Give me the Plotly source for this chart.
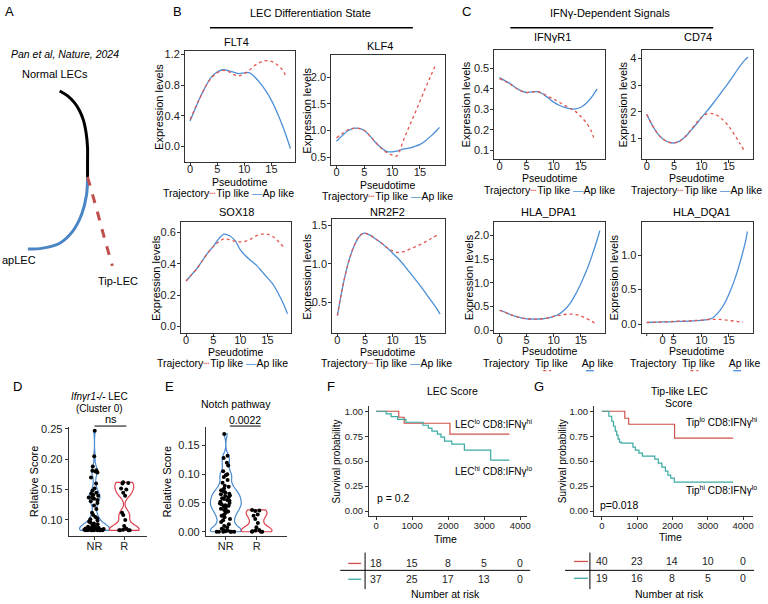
import plotly.graph_objects as go

W, H = 768, 604
FONT = "Liberation Sans, Arial, sans-serif"
RED = "#E3574E"
BLUE = "#4C8FD6"
KM_RED = "#D0504A"
KM_TEAL = "#3AAAA2"

# ---------------- Panel A: schematic trajectory paths ----------------
a_normal_x = [60, 68, 75, 80, 84, 86.5, 88, 88, 88]
a_normal_y = [88, 93, 100, 108, 118, 130, 145, 160, 175]
a_ap_x = [88, 87, 82, 73, 60, 43, 28]
a_ap_y = [175, 193, 213, 230, 242, 247, 248]
a_tip_x = [88, 97, 105, 113]
a_tip_y = [175, 207, 237, 265]

# ---------------- Panels B/C: pseudotime expression curves ----------------
genes = [
    dict(name="FLT4",
         tb=[0, 1, 2, 3, 4, 5, 6, 7, 8, 9, 10, 11, 12, 13, 14, 15, 16, 17, 18, 18.5],
         vb=[0.33, 0.50, 0.66, 0.80, 0.91, 0.97, 1.00, 0.99, 0.97, 0.95, 0.96, 0.96, 0.90, 0.82, 0.72, 0.60, 0.45, 0.28, 0.08, -0.03],
         tr=[0, 1, 2, 3, 4, 5, 6, 7, 8, 9, 10, 11, 12, 13, 14, 15, 16, 17, 17.8],
         vr=[0.35, 0.51, 0.66, 0.80, 0.90, 0.96, 0.99, 0.98, 0.94, 0.92, 0.95, 1.00, 1.06, 1.10, 1.12, 1.11, 1.07, 1.00, 0.90],
         yticks=[0.0, 0.4, 0.8, 1.2], ytext=["0.0", "0.4", "0.8", "1.2"]),
    dict(name="KLF4",
         tb=[0, 1, 2, 3, 4, 5, 6, 7, 8, 9, 10, 11, 12, 13, 14, 15, 16, 17, 18, 18.5],
         vb=[0.80, 0.90, 0.99, 1.04, 1.04, 1.00, 0.90, 0.78, 0.68, 0.61, 0.60, 0.62, 0.65, 0.67, 0.70, 0.74, 0.81, 0.90, 1.00, 1.06],
         tr=[0, 1, 2, 3, 4, 5, 6, 7, 8, 9, 10, 10.8, 12, 13, 14, 15, 16, 17, 17.8],
         vr=[0.86, 0.94, 1.01, 1.04, 1.04, 1.00, 0.90, 0.78, 0.67, 0.59, 0.54, 0.52, 0.81, 1.06, 1.30, 1.55, 1.80, 2.04, 2.23],
         yticks=[0.5, 1.0, 1.5, 2.0], ytext=["0.5", "1.0", "1.5", "2.0"]),
    dict(name="SOX18",
         tb=[0, 1, 2, 3, 4, 5, 6, 7, 8, 9, 10, 11, 12, 13, 14, 15, 16, 17, 18, 18.7],
         vb=[0.29, 0.33, 0.37, 0.42, 0.47, 0.51, 0.56, 0.59, 0.58, 0.55, 0.49, 0.45, 0.42, 0.39, 0.35, 0.31, 0.27, 0.21, 0.14, 0.08],
         tr=[0, 1, 2, 3, 4, 5, 6, 7, 8, 9, 10, 11, 12, 13, 14, 15, 16, 17, 18],
         vr=[0.29, 0.33, 0.37, 0.42, 0.47, 0.51, 0.54, 0.56, 0.555, 0.545, 0.54, 0.545, 0.56, 0.58, 0.59, 0.59, 0.575, 0.545, 0.505],
         yticks=[0.0, 0.2, 0.4, 0.6], ytext=["0.0", "0.2", "0.4", "0.6"]),
    dict(name="NR2F2",
         tb=[0, 1, 2, 3, 4, 4.8, 6, 7, 8, 9, 10, 11, 12, 13, 14, 15, 16, 17, 18, 18.6],
         vb=[0.33, 0.72, 1.02, 1.23, 1.36, 1.40, 1.37, 1.32, 1.27, 1.21, 1.14, 1.07, 0.99, 0.90, 0.81, 0.72, 0.62, 0.52, 0.42, 0.35],
         tr=[0, 1, 2, 3, 4, 4.8, 6, 7, 8, 9, 10, 11, 12, 13, 14, 15, 16, 17, 18],
         vr=[0.33, 0.72, 1.02, 1.23, 1.36, 1.40, 1.37, 1.32, 1.27, 1.21, 1.17, 1.15, 1.16, 1.19, 1.22, 1.25, 1.29, 1.33, 1.37],
         yticks=[0.5, 1.0, 1.5], ytext=["0.5", "1.0", "1.5"]),
    dict(name="IFNγR1",
         tb=[0, 1, 2, 3, 4, 5, 6, 7, 8, 9, 10, 11, 12, 13, 14, 15, 16, 17, 18],
         vb=[0.455, 0.44, 0.425, 0.405, 0.39, 0.382, 0.385, 0.386, 0.375, 0.355, 0.335, 0.32, 0.31, 0.303, 0.302, 0.31, 0.33, 0.36, 0.40],
         tr=[0, 1, 2, 3, 4, 5, 6, 7, 8, 9, 10, 11, 12, 13, 14, 15, 16, 17, 17.5],
         vr=[0.45, 0.437, 0.422, 0.404, 0.39, 0.382, 0.385, 0.386, 0.377, 0.362, 0.35, 0.335, 0.32, 0.305, 0.29, 0.265, 0.235, 0.19, 0.15],
         yticks=[0.1, 0.2, 0.3, 0.4, 0.5], ytext=["0.1", "0.2", "0.3", "0.4", "0.5"]),
    dict(name="CD74",
         tb=[0, 1, 2, 3, 4, 5, 6, 7, 8, 9, 10, 11, 12, 13, 14, 15, 16, 17, 18, 18.5],
         vb=[1.9, 1.5, 1.18, 0.97, 0.86, 0.83, 0.90, 1.05, 1.28, 1.52, 1.78, 2.02, 2.28, 2.55, 2.83, 3.10, 3.40, 3.70, 3.95, 4.05],
         tr=[0, 1, 2, 3, 4, 5, 6, 7, 8, 9, 10, 11, 12, 13, 14, 15, 16, 17, 17.7],
         vr=[1.9, 1.5, 1.18, 0.97, 0.86, 0.83, 0.90, 1.06, 1.30, 1.56, 1.79, 1.92, 1.93, 1.85, 1.68, 1.45, 1.15, 0.82, 0.58],
         yticks=[1, 2, 3, 4], ytext=["1", "2", "3", "4"]),
    dict(name="HLA_DPA1",
         tb=[0, 1, 2, 3, 4, 5, 6, 7, 8, 9, 10, 11, 12, 13, 14, 15, 16, 17, 18, 18.5],
         vb=[0.42, 0.38, 0.33, 0.29, 0.26, 0.24, 0.235, 0.235, 0.24, 0.26, 0.29, 0.34, 0.43, 0.56, 0.75, 0.98, 1.24, 1.55, 1.90, 2.10],
         tr=[0, 1, 2, 3, 4, 5, 6, 7, 8, 9, 10, 11, 12, 13, 14, 15, 16, 17, 17.7],
         vr=[0.42, 0.38, 0.33, 0.29, 0.26, 0.24, 0.235, 0.235, 0.24, 0.26, 0.29, 0.31, 0.33, 0.34, 0.33, 0.30, 0.25, 0.19, 0.14],
         yticks=[0.0, 0.5, 1.0, 1.5, 2.0], ytext=["0.0", "0.5", "1.0", "1.5", "2.0"]),
    dict(name="HLA_DQA1",
         tb=[0, 2, 4, 6, 8, 10, 11, 12, 13, 14, 15, 16, 17, 18, 18.4],
         vb=[0.025, 0.03, 0.035, 0.04, 0.045, 0.055, 0.065, 0.09, 0.16, 0.27, 0.43, 0.63, 0.88, 1.18, 1.34],
         tr=[0, 2, 4, 6, 8, 10, 12, 13, 14, 15, 16, 17, 17.6],
         vr=[0.025, 0.03, 0.035, 0.045, 0.05, 0.06, 0.07, 0.07, 0.065, 0.055, 0.045, 0.035, 0.03],
         yticks=[0.0, 0.5, 1.0], ytext=["0.0", "0.5", "1.0"]),
]
pseudo_ticks = [0, 5, 10, 15]
pseudo_text = ["0", "5", "10", "15"]
dqa1_ticks = [2.9, 4.9, 10, 15]
dqa1_text = ["0", "5", "10", "15"]

# ---------------- Panels D/E: violin scores ----------------
d_nr = [0.247, 0.205, 0.188, 0.182, 0.181, 0.180, 0.178, 0.170, 0.160, 0.152,
        0.148, 0.145, 0.143, 0.141, 0.140, 0.138, 0.137, 0.136, 0.135, 0.133, 0.131, 0.128,
        0.124, 0.118, 0.112, 0.108, 0.105, 0.103, 0.101,
        0.099, 0.097, 0.096, 0.094, 0.093, 0.092, 0.090, 0.089, 0.088, 0.087, 0.086, 0.085,
        0.085, 0.084, 0.084, 0.083, 0.083, 0.083, 0.083, 0.083, 0.083, 0.083, 0.084, 0.086,
        0.084, 0.085, 0.087, 0.088, 0.083, 0.083, 0.084]
d_r = [0.162, 0.161, 0.160, 0.152, 0.150, 0.145, 0.140, 0.112, 0.108, 0.100, 0.090, 0.086,
       0.084, 0.083, 0.083, 0.083, 0.083]
e_nr = [0.170, 0.132, 0.128, 0.120, 0.115, 0.105, 0.100, 0.098, 0.095, 0.090, 0.085, 0.080,
        0.078, 0.075, 0.072, 0.070, 0.068, 0.066, 0.065, 0.063, 0.062, 0.060, 0.058, 0.057,
        0.055, 0.054, 0.052, 0.050, 0.049, 0.048, 0.046, 0.045, 0.044, 0.042, 0.040, 0.038,
        0.036, 0.035, 0.033, 0.030, 0.028, 0.025, 0.022, 0.020, 0.017, 0.013, 0.010, 0.008,
        0.005, 0.003, 0.002, 0.001, 0.0, 0.0, 0.0, 0.0, 0.0, 0.0]
e_r = [0.038, 0.037, 0.036, 0.030, 0.028, 0.022, 0.015, 0.008, 0.003, 0.002, 0.001, 0.0, 0.0, 0.0]
groups = ["NR", "R"]

# ---------------- Panels F/G: Kaplan-Meier ----------------
f_lo_t = [0, 630, 780, 2050, 3700]
f_lo_s = [1.0, 0.94, 0.88, 0.77, 0.77]
f_hi_t = [0, 280, 420, 600, 830, 1300, 1450, 1550, 1700, 1800, 1900, 2100, 2450, 3180, 3700]
f_hi_s = [1.0, 0.973, 0.946, 0.919, 0.89, 0.86, 0.83, 0.80, 0.77, 0.74, 0.70, 0.67, 0.61, 0.51, 0.51]
g_lo_t = [0, 650, 760, 2060, 3720]
g_lo_s = [1.0, 0.93, 0.87, 0.73, 0.73]
g_hi_t = [0, 200, 280, 330, 380, 420, 460, 500, 550, 880, 950, 1050, 1150, 1500, 1600, 1700, 1800, 1870, 1950, 2050, 3720]
g_hi_s = [1.0, 0.95, 0.90, 0.85, 0.80, 0.76, 0.72, 0.69, 0.68, 0.64, 0.61, 0.58, 0.55, 0.52, 0.48, 0.44, 0.40, 0.36, 0.33, 0.29, 0.29]
risk_times = [0, 1000, 2000, 3000, 4000]
f_risk_red = [18, 15, 8, 5, 0]
f_risk_teal = [37, 25, 17, 13, 0]
g_risk_red = [40, 23, 14, 10, 0]
g_risk_teal = [19, 16, 8, 5, 0]
surv_ticks = [0, 0.25, 0.5, 0.75, 1.0]
surv_text = ["0.00", "0.25", "0.50", "0.75", "1.00"]

# =====================================================================
fig = go.Figure()
layout = {}
annotations = []
shapes = []
axis_n = [0]


def px_x(p):
    return p / W


def px_y(p):
    return 1 - p / H


def new_axes(x0, x1, y0, y1, xr, yr, xkw=None, ykw=None):
    axis_n[0] += 1
    n = axis_n[0]
    sx = "" if n == 1 else str(n)
    xa = dict(domain=[px_x(x0), px_x(x1)], range=xr, anchor="y" + sx, showgrid=False, zeroline=False)
    ya = dict(domain=[px_y(y1), px_y(y0)], range=yr, anchor="x" + sx, showgrid=False, zeroline=False)
    if xkw:
        xa.update(xkw)
    if ykw:
        ya.update(ykw)
    layout["xaxis" + sx] = xa
    layout["yaxis" + sx] = ya
    return "x" + sx, "y" + sx


def txt(x, y, s, size=11, xanchor="center", yanchor="middle", angle=0, color="black"):
    annotations.append(dict(x=px_x(x), y=px_y(y), xref="paper", yref="paper", text=s,
                            showarrow=False, font=dict(size=size, family=FONT, color=color),
                            xanchor=xanchor, yanchor=yanchor, textangle=angle))


def hline(x0, x1, y, color="black", width=1, dash="solid"):
    shapes.append(dict(type="line", xref="paper", yref="paper", x0=px_x(x0), x1=px_x(x1),
                       y0=px_y(y), y1=px_y(y), line=dict(color=color, width=width, dash=dash)))


def vline(x, y0, y1, color="black", width=1):
    shapes.append(dict(type="line", xref="paper", yref="paper", x0=px_x(x), x1=px_x(x),
                       y0=px_y(y0), y1=px_y(y1), line=dict(color=color, width=width)))


hidden = dict(visible=False)

# ---------- Panel A ----------
xa, ya = new_axes(0, 150, 60, 300, [0, 150], [300, 60], hidden, hidden)
fig.add_trace(go.Scatter(x=a_normal_x, y=a_normal_y, mode="lines", line=dict(color="black", width=3, shape="spline"), xaxis=xa, yaxis=ya))
fig.add_trace(go.Scatter(x=a_ap_x, y=a_ap_y, mode="lines", line=dict(color="#4A86C5", width=3, shape="spline"), xaxis=xa, yaxis=ya))
fig.add_trace(go.Scatter(x=a_tip_x, y=a_tip_y, mode="lines", line=dict(color="#C0504D", width=3, dash="dash", shape="spline"), xaxis=xa, yaxis=ya))
txt(10, 8, "A", 13)
txt(9, 51, "<i>Pan et al, Nature, 2024</i>", 10.5, xanchor="left")
txt(20, 71, "Normal LECs", 11, xanchor="left")
txt(0, 259, "apLEC", 11, xanchor="left")
txt(97, 280, "Tip-LEC", 11, xanchor="left")

# ---------- Panels B / C ----------
txt(178, 8, "B", 13)
txt(469, 8, "C", 13)
txt(312, 9, "LEC Differentiation State", 11)
hline(211, 415, 24, width=1.5)
txt(613, 9, "IFNγ-Dependent Signals", 11)
hline(513, 717, 24, width=1.5)

gene_layout = [
    dict(box=(186, 297, 48, 160), yr=[-0.206, 1.239], title=(238, 38), ylab=160, pt=180, leg=(230, 191)),
    dict(box=(333, 447, 52, 163), yr=[0.352, 2.407], title=(382, 42), ylab=309, pt=183, leg=(390, 194)),
    dict(box=(182, 293, 221, 333), yr=[-0.044, 0.665], title=(238, 210), ylab=157, pt=352, leg=(224, 363)),
    dict(box=(334, 447, 218, 333), yr=[0.103, 1.577], title=(390, 210), ylab=309, pt=352, leg=(389, 363)),
    dict(box=(497, 608, 47, 157), yr=[0.057, 0.587], title=(555, 33), ylab=468, pt=176, leg=(552, 188)),
    dict(box=(645, 757, 47, 157), yr=[0.222, 4.296], title=(702, 33), ylab=626, pt=176, leg=(700, 188)),
    dict(box=(497, 608, 221, 333), yr=[-0.0625, 2.271], title=(551, 210), ylab=471, pt=351, leg=(551, 363)),
    dict(box=(645, 757, 221, 333), yr=[-0.129, 1.471], title=(705, 210), ylab=617, pt=351, leg=(699, 363)),
]

for g, gl in zip(genes, gene_layout):
    x0, x1, y0, y1 = gl["box"]
    common = dict(showline=True, mirror=True, linecolor="#333", linewidth=1, ticks="outside",
                  ticklen=3, tickcolor="#333", tickfont=dict(size=11, family=FONT, color="#222"))
    if g["name"] == "HLA_DQA1":
        xk = dict(common, tickvals=dqa1_ticks, ticktext=dqa1_text, ticklabelstandoff=-6)
    else:
        xk = dict(common, tickvals=pseudo_ticks, ticktext=pseudo_text, ticklabelstandoff=-6)
    yk = dict(common, tickvals=g["yticks"], ticktext=g["ytext"], ticklabelstandoff=-1)
    xa, ya = new_axes(x0, x1, y0, y1, [-0.93, 19.43], gl["yr"], xk, yk)
    fig.add_trace(go.Scatter(x=g["tb"], y=g["vb"], mode="lines",
                             line=dict(color=BLUE, width=1.3, shape="spline"), xaxis=xa, yaxis=ya))
    fig.add_trace(go.Scatter(x=g["tr"], y=g["vr"], mode="lines",
                             line=dict(color=RED, width=1.3, dash="dot", shape="spline"), xaxis=xa, yaxis=ya))
    tx, ty = gl["title"]
    txt(tx, ty, g["name"], 11)
    txt(gl["ylab"], (y0 + y1) / 2, "Expression levels", 11, angle=-90)
    txt((x0 + x1) / 2, gl["pt"], "Pseudotime", 10.5)
    lx, ly = gl["leg"]
    if g["name"].startswith("HLA"):
        txt(lx, ly, "Trajectory  Tip like     Ap like", 10.5)
        off = lx - 551
        hline(546 + off, 554 + off, ly + 8, color=RED, width=1.3, dash="dot")
        hline(589 + off, 597 + off, ly + 8, color=BLUE, width=1.3)
    else:
        txt(lx, ly, "Trajectory<span style='color:%s'>┄</span>Tip like <span style='color:%s'>—</span>Ap like" % (RED, BLUE), 10.5)
    if g["name"] == "HLA_DQA1":
        # unlabeled tick at pseudotime 0
        shapes.append(dict(type="line", xref=xa, yref="paper", x0=0, x1=0,
                           y0=px_y(y1), y1=px_y(y1 + 3), line=dict(color="#333", width=1)))

# ---------- Panel D ----------
txt(18, 387, "D", 13)
txt(100, 397, "<i>Ifnγr1-/-</i> LEC", 10)
txt(100, 409, "(Cluster 0)", 10)
vk_common = dict(showline=True, linecolor="#333", linewidth=1, ticks="outside", ticklen=3,
                 tickcolor="#333", tickfont=dict(size=11, family=FONT, color="#222"))
xa, ya = new_axes(69, 148, 428, 538, [0.133, 2.77], [0.074, 0.253],
                  dict(vk_common, tickvals=[1, 2], ticktext=groups, ticklabelstandoff=-3),
                  dict(vk_common, tickvals=[0.10, 0.15, 0.20, 0.25], ticktext=["0.10", "0.15", "0.20", "0.25"]))
for i, (vals, col) in enumerate([(d_nr, "#4A8BD0"), (d_r, "#E0414F")]):
    fig.add_trace(go.Violin(x=[i + 1] * len(vals), y=vals, line=dict(color=col, width=1.2),
                            fillcolor="rgba(255,255,255,0)", spanmode="hard", width=1.0,
                            bandwidth=0.007, points="all", pointpos=0, jitter=0.7,
                            marker=dict(color="black", size=4), scalemode="width",
                            xaxis=xa, yaxis=ya, hoveron="points"))
txt(35, 483, "Relative Score", 11, angle=-90)
txt(112, 420, "ns", 11)
hline(95, 127, 427)

# ---------- Panel E ----------
txt(170, 387, "E", 13)
txt(237, 405, "Notch pathway", 10.5)
txt(246, 421, "0.0022", 10.5)
hline(231, 262, 427)
xa, ya = new_axes(207, 288, 428, 538, [0.355, 2.97], [-0.007, 0.182],
                  dict(vk_common, tickvals=[1, 2], ticktext=groups, ticklabelstandoff=-3),
                  dict(vk_common, tickvals=[0.0, 0.05, 0.10, 0.15], ticktext=["0.00", "0.05", "0.10", "0.15"]))
for i, (vals, col) in enumerate([(e_nr, "#4A8BD0"), (e_r, "#E0414F")]):
    fig.add_trace(go.Violin(x=[i + 1] * len(vals), y=vals, line=dict(color=col, width=1.2),
                            fillcolor="rgba(255,255,255,0)", spanmode="hard", width=1.0,
                            bandwidth=0.007, points="all", pointpos=0, jitter=0.7,
                            marker=dict(color="black", size=4), scalemode="width",
                            xaxis=xa, yaxis=ya, hoveron="points"))
txt(168, 483, "Relative Score", 11, angle=-90)

# ---------- Panels F / G ----------
sk_common = dict(showline=True, linecolor="#333", linewidth=1, ticks="outside", ticklen=3,
                 tickcolor="#333", tickfont=dict(size=9.5, family=FONT, color="#222"))


def km_panel(letter, lx, title_lines, box, xr, lo, hi, lab_lo, lab_hi, lab_x, lab_y, ptext, pxy,
             ylab_x, time_y, risk_red, risk_teal, risk_y, key_x, sep_x, tab_x):
    x0, x1, y0, y1 = box
    txt(lx, 387, letter, 13)
    for (tx, ty, s) in title_lines:
        txt(tx, ty, s, 10.5)
    xa, ya = new_axes(x0, x1, y0, y1, xr, [-0.05, 1.05],
                      dict(sk_common, tickvals=risk_times, ticktext=[str(t) for t in risk_times], ticklabelstandoff=-2),
                      dict(sk_common, tickvals=surv_ticks, ticktext=surv_text))
    fig.add_trace(go.Scatter(x=lo[0], y=lo[1], mode="lines", line=dict(color=KM_RED, width=1.2, shape="hv"), xaxis=xa, yaxis=ya))
    fig.add_trace(go.Scatter(x=hi[0], y=hi[1], mode="lines", line=dict(color=KM_TEAL, width=1.2, shape="hv"), xaxis=xa, yaxis=ya))
    txt(lab_x, lab_y[0], lab_lo, 10, xanchor="left")
    txt(lab_x, lab_y[1], lab_hi, 10, xanchor="left")
    txt(pxy[0], pxy[1], ptext, 10.5, xanchor="left")
    txt(ylab_x, (y0 + y1) / 2, "Survival probability", 10, angle=-90)
    txt((x0 + x1) / 2 - 3, time_y, "Time", 10.5)
    for row, yy, col in [(risk_red, risk_y[0], KM_RED), (risk_teal, risk_y[1], KM_TEAL)]:
        for t, n in zip(risk_times, row):
            annotations.append(dict(x=t, y=px_y(yy), xref=xa, yref="paper", text=str(n), showarrow=False,
                                    font=dict(size=10.5, family=FONT, color="#222"), xanchor="center", yanchor="middle"))
        hline(key_x[0], key_x[1], yy, color=col, width=1.3)
    vline(sep_x, 555, 592)
    hline(tab_x[0], tab_x[1], 573)
    txt((tab_x[0] + tab_x[1]) / 2 + 10, 597, "Number at risk", 10.5)


km_panel("F", 333, [(455, 392, "LEC Score")], (371, 530, 407, 518), [-193, 4193],
         (f_lo_t, f_lo_s), (f_hi_t, f_hi_s),
         "LEC<sup>lo</sup> CD8:IFNγ<sup>hi</sup>", "LEC<sup>hi</sup> CD8:IFNγ<sup>lo</sup>",
         455, (425, 472), "p = 0.2", (377, 500), 338, 541,
         f_risk_red, f_risk_teal, (566, 582), (350, 363), 367, (342, 533))
km_panel("G", 542, [(683, 392, "Tip-like LEC"), (683, 404, "Score")], (597, 757, 407, 518), [-225, 4282],
         (g_lo_t, g_lo_s), (g_hi_t, g_hi_s),
         "Tip<sup>lo</sup> CD8:IFNγ<sup>hi</sup>", "Tip<sup>hi</sup> CD8:IFNγ<sup>lo</sup>",
         688, (423, 492), "p=0.018", (601, 507), 565, 539,
         g_risk_red, g_risk_teal, (564, 581), (577, 591), 593, (568, 758))

layout.update(dict(width=W, height=H, margin=dict(l=0, r=0, t=0, b=0), showlegend=False,
                   paper_bgcolor="white", plot_bgcolor="white",
                   font=dict(family=FONT, color="black"),
                   annotations=annotations, shapes=shapes))
fig.update_layout(**layout)
fig.write_html("out.html", config={"displayModeBar": False},
               post_script="document.body.style.margin='0px';")
